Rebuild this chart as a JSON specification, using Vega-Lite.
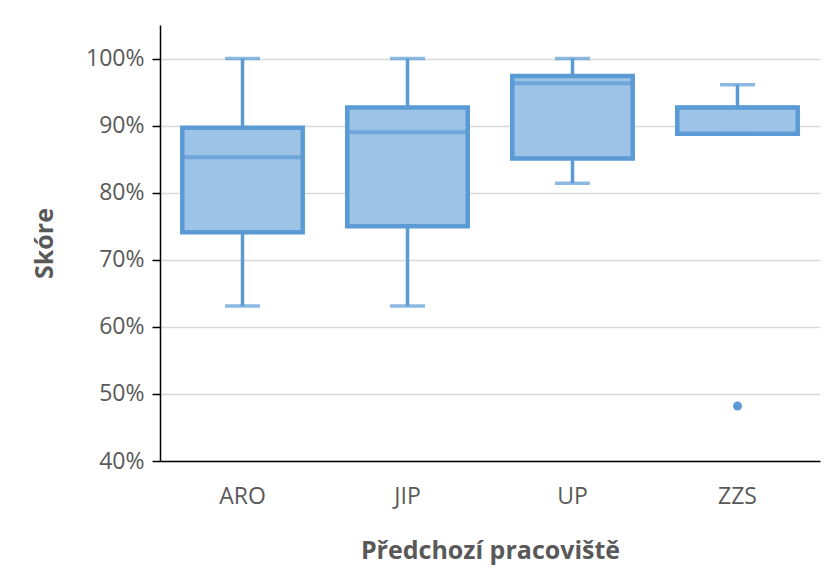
{
  "$schema": "https://vega.github.io/schema/vega-lite/v6.json",
  "autosize": {"type": "none"},
  "width": 660,
  "height": 436,
  "padding": {"left": 160, "top": 25, "right": 7, "bottom": 118},
  "background": "white",
  "config": {
    "view": {"stroke": null},
    "font": "Open Sans"
  },
  "datasets": {
    "boxes": [
      {"pracoviste": "ARO", "min": 0.631, "q1": 0.741, "median": 0.853, "q3": 0.897, "max": 1.0},
      {"pracoviste": "JIP", "min": 0.631, "q1": 0.750, "median": 0.890, "q3": 0.927, "max": 1.0},
      {"pracoviste": "UP", "min": 0.814, "q1": 0.851, "median": 0.963, "q3": 0.974, "max": 1.0},
      {"pracoviste": "ZZS", "min": 0.888, "q1": 0.888, "median": 0.927, "q3": 0.927, "max": 0.961}
    ],
    "outliers": [
      {"pracoviste": "ZZS", "value": 0.482}
    ]
  },
  "encoding": {
    "x": {
      "field": "pracoviste",
      "type": "nominal",
      "sort": ["ARO", "JIP", "UP", "ZZS"],
      "scale": {"domain": ["ARO", "JIP", "UP", "ZZS"], "paddingInner": 0.27, "paddingOuter": 0.135},
      "axis": {
        "title": "Předchozí pracoviště",
        "labelAngle": 0,
        "labelFontSize": 23,
        "labelColor": "#595959",
        "labelPadding": 24,
        "ticks": false,
        "domainColor": "#000000",
        "domainWidth": 1.5,
        "titleFontSize": 25,
        "titleFontWeight": "bold",
        "titleColor": "#595959",
        "titlePadding": 30
      }
    }
  },
  "layer": [
    {
      "data": {"name": "boxes"},
      "mark": {"type": "rule", "color": "#5B9BD5", "strokeWidth": 3.5},
      "encoding": {
        "y": {
          "field": "min",
          "type": "quantitative",
          "scale": {"domain": [0.4, 1.05], "nice": false, "zero": false},
          "axis": {
            "title": "Skóre",
            "format": ".0%",
            "values": [0.4, 0.5, 0.6, 0.7, 0.8, 0.9, 1.0],
            "labelFontSize": 23,
            "labelColor": "#595959",
            "labelPadding": 8,
            "tickColor": "#000000",
            "tickSize": 8,
            "tickWidth": 1.5,
            "domainColor": "#000000",
            "domainWidth": 1.5,
            "grid": true,
            "gridColor": "#D9D9D9",
            "gridWidth": 1.5,
            "titleFontSize": 25,
            "titleFontWeight": "bold",
            "titleColor": "#595959",
            "titlePadding": 28
          }
        },
        "y2": {"field": "max"}
      }
    },
    {
      "data": {"name": "boxes"},
      "mark": {"type": "bar", "fill": "#9DC3E6", "stroke": "#5B9BD5", "strokeWidth": 4.5},
      "encoding": {
        "y": {"field": "q1", "type": "quantitative"},
        "y2": {"field": "q3"}
      }
    },
    {
      "data": {"name": "boxes"},
      "mark": {"type": "tick", "color": "#5B9BD5", "thickness": 4, "size": 120},
      "encoding": {
        "y": {"field": "median", "type": "quantitative"}
      }
    },
    {
      "data": {"name": "boxes"},
      "mark": {"type": "tick", "color": "#5B9BD5", "thickness": 3.5, "size": 35},
      "encoding": {
        "y": {"field": "min", "type": "quantitative"}
      }
    },
    {
      "data": {"name": "boxes"},
      "mark": {"type": "tick", "color": "#5B9BD5", "thickness": 3.5, "size": 35},
      "encoding": {
        "y": {"field": "max", "type": "quantitative"}
      }
    },
    {
      "data": {"name": "outliers"},
      "mark": {"type": "point", "filled": true, "color": "#5B9BD5", "size": 80, "opacity": 1},
      "encoding": {
        "y": {"field": "value", "type": "quantitative"}
      }
    }
  ]
}
